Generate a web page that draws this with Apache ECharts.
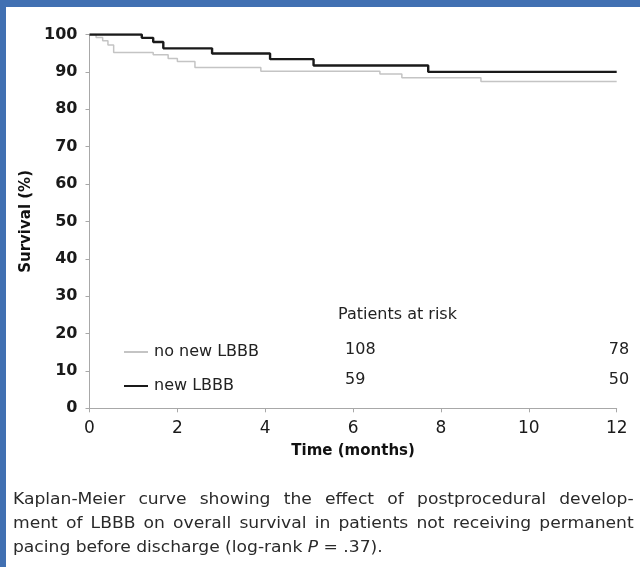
<!DOCTYPE html>
<html>
<head>
<meta charset="utf-8">
<script src="https://cdn.jsdelivr.net/npm/echarts@6/dist/echarts.min.js"></script>
<style>
  html, body { margin: 0; padding: 0; background: #fff; }
  #wrap { position: relative; width: 640px; height: 567px; overflow: hidden; background: #fff; }
  #chart { position: absolute; left: 0; top: 0; width: 640px; height: 567px; }
  .frame-top { position: absolute; left: 0; top: 0; width: 640px; height: 7px; background: #4170b2; }
  .frame-left { position: absolute; left: 0; top: 0; width: 6px; height: 567px; background: #4170b2; }
  #caption {
    position: absolute; left: 13px; top: 487px; width: 580px;
    transform: scaleX(1.07); transform-origin: 0 0;
    font-family: "DejaVu Sans", sans-serif; font-size: 16px; line-height: 24px;
    color: #2a2a2a;
  }
  #caption div { text-align: justify; text-align-last: justify; white-space: nowrap; }
  #caption div.last { text-align-last: left; }
</style>
</head>
<body>
<div id="wrap">
  <div id="chart"></div>
  <div class="frame-top"></div>
  <div class="frame-left"></div>
  <div id="caption">
    <div>Kaplan-Meier curve showing the effect of postprocedural develop-</div>
    <div>ment of LBBB on overall survival in patients not receiving permanent</div>
    <div class="last">pacing before discharge (log-rank <i>P</i> = .37).</div>
  </div>
</div>
<script>
// Kaplan-Meier steps (months, survival %)
const noNewTime = [0, 0.15, 0.30, 0.42, 0.55, 1.45, 1.79, 2.00, 2.40, 3.90, 6.61, 7.11, 8.91, 12]
const noNewSurv = [100, 99.2, 98.3, 97.2, 95.2, 94.6, 93.6, 92.8, 91.2, 90.2, 89.4, 88.4, 87.4, 87.4]
const newTime = [0, 1.19, 1.45, 1.68, 2.79, 4.11, 5.10, 7.71, 12]
const newSurv = [100, 99.1, 98.0, 96.3, 94.9, 93.4, 91.7, 90.0, 90.0]
// patients at risk
const riskTimes = [6, 12]
const noNewRisk = [108, 78]
const newRisk = [59, 50]

const font = 'DejaVu Sans'
const toPairs = (xs, ys) => xs.map((x, i) => [x, ys[i]])

const chart = echarts.init(document.getElementById('chart'))
chart.setOption({
  animation: false,
  backgroundColor: 'transparent',
  textStyle: { fontFamily: font },
  grid: { left: 89.5, right: 23.3, top: 34.5, bottom: 158.7, containLabel: false },
  legend: {
    orient: 'vertical',
    left: 118,
    top: 339,
    itemWidth: 24,
    itemHeight: 14,
    itemGap: 18,
    itemStyle: { opacity: 0 },
    textStyle: { fontSize: 16, color: '#222', fontFamily: font, padding: [0, 0, 0, 1] },
    data: ['no new LBBB', 'new LBBB']
  },
  xAxis: {
    type: 'value',
    min: 0,
    max: 12,
    interval: 2,
    name: 'Time (months)',
    nameLocation: 'middle',
    nameGap: 35,
    nameTextStyle: { fontSize: 15, fontWeight: 'bold', color: '#111', fontFamily: font },
    axisLine: { lineStyle: { color: '#a8a8a8', width: 1 } },
    axisTick: { show: true, length: 4, lineStyle: { color: '#a8a8a8' } },
    axisLabel: { fontSize: 17, color: '#1a1a1a', margin: 12, fontFamily: font },
    splitLine: { show: false }
  },
  yAxis: {
    type: 'value',
    min: 0,
    max: 100,
    interval: 10,
    name: 'Survival (%)',
    nameLocation: 'middle',
    nameGap: 52,
    nameTextStyle: { fontSize: 15, fontWeight: 'bold', color: '#111', fontFamily: font },
    axisLine: { show: true, lineStyle: { color: '#a8a8a8', width: 1 } },
    axisTick: { show: true, length: 4, lineStyle: { color: '#a8a8a8' } },
    axisLabel: { fontSize: 16, fontWeight: 'bold', color: '#1a1a1a', margin: 12, fontFamily: font },
    splitLine: { show: false }
  },
  series: [
    {
      name: 'no new LBBB',
      type: 'line',
      step: 'end',
      symbol: 'none',
      lineStyle: { color: '#c4c4c4', width: 1.5 },
      itemStyle: { color: '#c4c4c4' },
      data: toPairs(noNewTime, noNewSurv)
    },
    {
      name: 'new LBBB',
      type: 'line',
      step: 'end',
      symbol: 'none',
      lineStyle: { color: '#1a1a1a', width: 2.4 },
      itemStyle: { color: '#1a1a1a' },
      data: toPairs(newTime, newSurv)
    }
  ]
})

// at-risk table under the curves, columns placed on the time axis
const riskText = []
riskTimes.forEach((t, i) => {
  const x = chart.convertToPixel({ xAxisIndex: 0 }, t)
  riskText.push({
    type: 'text', x: x - 8, y: 350,
    style: { text: String(noNewRisk[i]), fontSize: 16, fill: '#222', fontFamily: font, align: 'left', verticalAlign: 'middle' }
  })
  riskText.push({
    type: 'text', x: x - 8, y: 380,
    style: { text: String(newRisk[i]), fontSize: 16, fill: '#222', fontFamily: font, align: 'left', verticalAlign: 'middle' }
  })
})
riskText.push({
  type: 'text', x: 338, y: 315,
  style: { text: 'Patients at risk', fontSize: 16, fill: '#222', fontFamily: font, align: 'left', verticalAlign: 'middle' }
})
chart.setOption({ graphic: riskText })
</script>
</body>
</html>
